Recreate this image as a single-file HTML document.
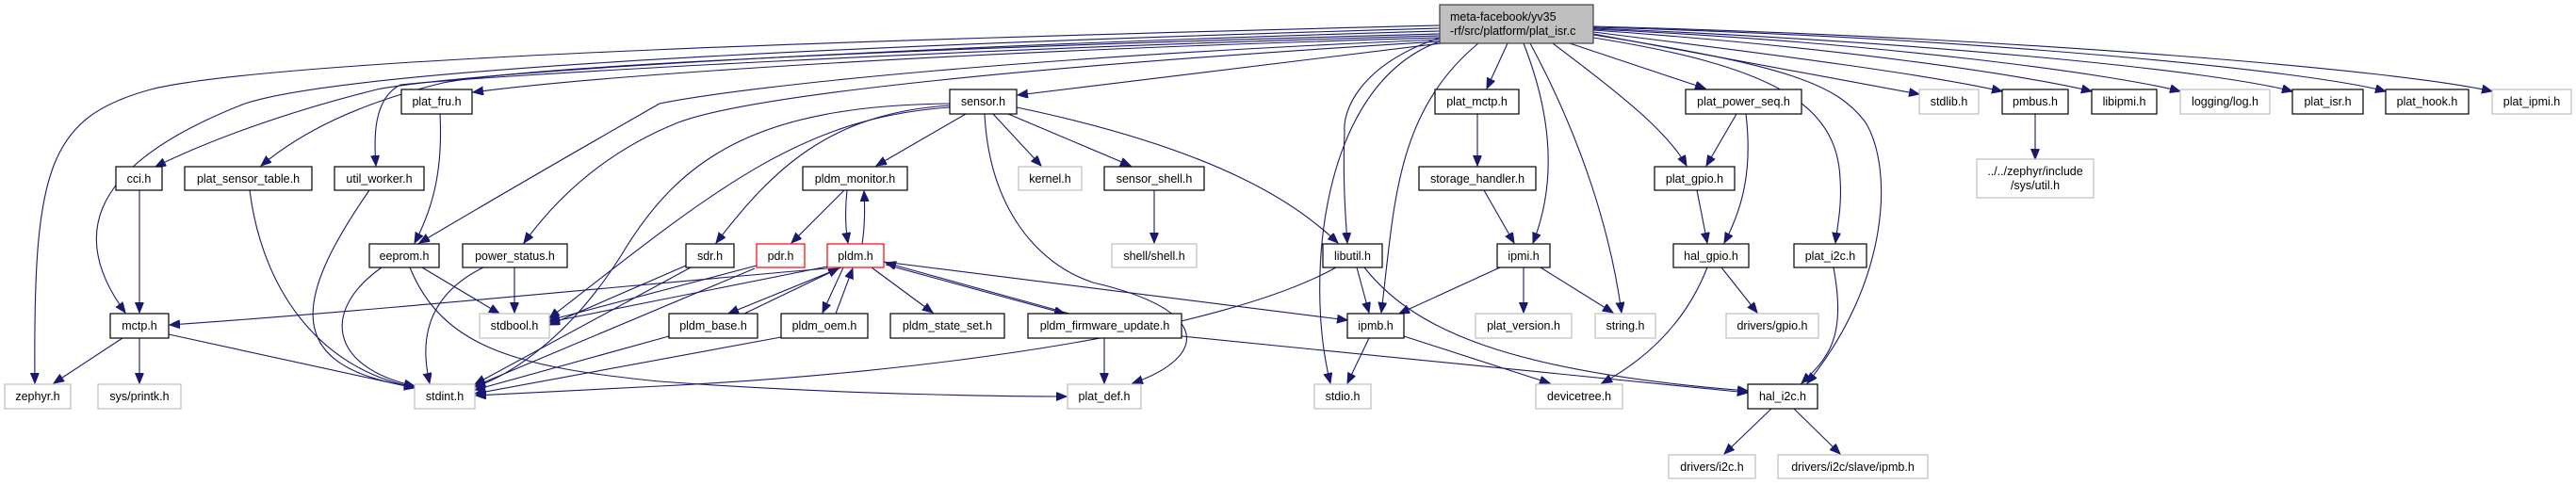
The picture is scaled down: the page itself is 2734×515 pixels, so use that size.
<!DOCTYPE html>
<html><head><meta charset="utf-8"><style>
html,body{margin:0;padding:0;background:#fff;}
svg{display:block;}
text{font-family:"Liberation Sans",sans-serif;font-size:12.5px;fill:#000;}
.e{fill:none;stroke:#191970;stroke-width:1.1;marker-end:url(#a);}
.n{fill:#fff;stroke:#000;stroke-width:1.2;}
.g{fill:#fff;stroke:#bfbfbf;stroke-width:1.2;}
.r{fill:#fff;stroke:#ff0000;stroke-width:1.2;}
</style></head><body>
<svg width="2734" height="515" viewBox="0 0 2734 515" xmlns="http://www.w3.org/2000/svg">
<defs><marker id="a" markerUnits="userSpaceOnUse" markerWidth="12" markerHeight="10" refX="11" refY="4.5" orient="auto"><path d="M0,0 L11,4.5 L0,9 Z" fill="#191970" stroke="#191970"/></marker></defs>
<path class="e" d="M1528,27 C1000,40 300,60 160,95 C50,125 35,180 37,407"/>
<path class="e" d="M1528,30 C1000,45 380,70 260,110 C80,180 80,260 133,332"/>
<path class="e" d="M1528,33 C1000,48 500,75 400,95 C300,120 220,150 165,177"/>
<path class="e" d="M1528,36 C1000,50 560,70 470,88 C380,110 320,140 277,176"/>
<path class="e" d="M1528,38 C1000,52 520,80 425,90 C395,105 397,150 399,176"/>
<path class="e" d="M1528,40 C1000,55 640,80 502,98"/>
<path class="e" d="M1528,42 C1100,60 800,90 700,110 Q560,190 445,258"/>
<path class="e" d="M1528,44 C1100,70 800,100 720,130 Q620,170 556,258"/>
<path class="e" d="M1530,46 L1080,101"/>
<path class="e" d="M1528,40 C1440,70 1425,120 1427,140 C1425,190 1428,230 1430,258"/>
<path class="e" d="M1569,46 C1480,120 1480,220 1466,332"/>
<path class="e" d="M1528,44 C1400,90 1385,300 1412,407"/>
<path class="e" d="M1600,46 L1578,94"/>
<path class="e" d="M1617,46 C1650,130 1650,200 1627,258"/>
<path class="e" d="M1624,46 C1680,150 1710,250 1721,332"/>
<path class="e" d="M1648,46 C1720,100 1770,140 1790,176"/>
<path class="e" d="M1666,46 L1810,94"/>
<path class="e" d="M1691,40 C1880,70 1950,110 1953,190 C1955,220 1950,240 1948,258"/>
<path class="e" d="M1691,37 C1900,70 1950,90 1980,130 C2010,180 2005,300 1918,407"/>
<path class="e" d="M1691,36 L2037,100"/>
<path class="e" d="M1691,34 C1900,60 2050,80 2125,97"/>
<path class="e" d="M1691,32 C1950,50 2150,80 2220,97"/>
<path class="e" d="M1691,31 C2000,45 2250,80 2314,97"/>
<path class="e" d="M1691,30 C2050,45 2350,75 2433,97"/>
<path class="e" d="M1691,29 C2100,40 2450,75 2532,97"/>
<path class="e" d="M1691,28 C2150,40 2550,75 2645,97"/>
<path class="e" d="M467,121 C470,180 460,220 440,258"/>
<path class="e" d="M148,202 L148,332"/>
<path class="e" d="M265,202 C280,320 350,395 440,411"/>
<path class="e" d="M392,202 C310,320 300,390 440,411"/>
<path class="e" d="M405,284 C340,330 350,390 440,410"/>
<path class="e" d="M448,284 L530,333"/>
<path class="e" d="M435,284 C470,370 550,390 700,405 C900,420 1100,421 1132,421"/>
<path class="e" d="M513,284 C440,320 450,380 456,407"/>
<path class="e" d="M546,284 L546,332"/>
<path class="e" d="M130,359 L57,407"/>
<path class="e" d="M148,359 L148,407"/>
<path class="e" d="M179,355 L440,412"/>
<path class="e" d="M878,285 C700,300 400,330 180,345"/>
<path class="e" d="M1025,121 L930,176"/>
<path class="e" d="M1054,121 L1105,176"/>
<path class="e" d="M1070,121 L1200,176"/>
<path class="e" d="M1008,112 C880,120 820,180 760,258"/>
<path class="e" d="M1008,114 C850,125 760,200 583,338"/>
<path class="e" d="M1008,110 C800,112 720,170 660,270 C610,350 550,395 504,411"/>
<path class="e" d="M1079,114 C1300,160 1380,220 1420,258"/>
<path class="e" d="M1045,121 C1050,220 1100,280 1160,300 C1290,330 1280,380 1202,407"/>
<path class="e" d="M1225,202 L1225,258"/>
<path class="e" d="M896,202 L840,258"/>
<path class="e" d="M899,202 C897,220 897,240 900,258"/>
<path class="e" d="M915,259 C918,240 918,220 917,203"/>
<path class="e" d="M893,284 L773,333"/>
<path class="e" d="M790,333 L890,285"/>
<path class="e" d="M895,284 L873,332"/>
<path class="e" d="M887,333 L905,285"/>
<path class="e" d="M925,284 L990,332"/>
<path class="e" d="M940,281 L1130,333"/>
<path class="e" d="M1135,333 L940,279"/>
<path class="e" d="M938,278 L1430,340"/>
<path class="e" d="M1172,359 L1172,407"/>
<path class="e" d="M1254,357 L1855,417"/>
<path class="e" d="M728,282 L583,345"/>
<path class="e" d="M733,284 L504,408"/>
<path class="e" d="M803,282 L583,340"/>
<path class="e" d="M801,285 L504,410"/>
<path class="e" d="M878,283 L583,342"/>
<path class="e" d="M710,357 L504,414"/>
<path class="e" d="M829,358 L504,418"/>
<path class="e" d="M1418,284 C1300,350 1000,395 700,410 L505,420"/>
<path class="e" d="M1440,284 L1453,332"/>
<path class="e" d="M1448,284 C1500,350 1600,395 1855,415"/>
<path class="e" d="M1575,202 L1607,258"/>
<path class="e" d="M1568,121 L1568,176"/>
<path class="e" d="M1592,284 L1485,333"/>
<path class="e" d="M1617,284 L1617,332"/>
<path class="e" d="M1635,284 L1712,332"/>
<path class="e" d="M1453,359 L1430,407"/>
<path class="e" d="M1490,357 L1645,407"/>
<path class="e" d="M1843,121 L1811,176"/>
<path class="e" d="M1853,121 C1860,180 1850,220 1830,258"/>
<path class="e" d="M1801,202 L1812,258"/>
<path class="e" d="M1812,284 C1790,340 1750,380 1700,407"/>
<path class="e" d="M1827,284 L1865,332"/>
<path class="e" d="M1946,284 C1960,360 1940,380 1912,407"/>
<path class="e" d="M1880,434 L1830,482"/>
<path class="e" d="M1904,434 L1953,482"/>
<path class="e" d="M2160,121 L2160,169"/>
<rect x="1528" y="5" width="163" height="41" fill="#bfbfbf" stroke="#404040" stroke-width="1.2"/>
<text x="1539" y="22">meta-facebook/yv35</text><text x="1539" y="37">-rf/src/platform/plat_isr.c</text>
<g text-anchor="middle">
<rect class="n" x="426" y="95" width="75" height="26"/><text x="463.5" y="112">plat_fru.h</text>
<rect class="n" x="1008" y="95" width="71" height="26"/><text x="1043.5" y="112">sensor.h</text>
<rect class="n" x="1523" y="95" width="89" height="26"/><text x="1567.5" y="112">plat_mctp.h</text>
<rect class="n" x="1789" y="95" width="123" height="26"/><text x="1850.5" y="112">plat_power_seq.h</text>
<rect class="g" x="2037" y="95" width="63" height="26"/><text x="2068.5" y="112">stdlib.h</text>
<rect class="n" x="2125" y="95" width="70" height="26"/><text x="2160" y="112">pmbus.h</text>
<rect class="n" x="2220" y="95" width="69" height="26"/><text x="2254.5" y="112">libipmi.h</text>
<rect class="g" x="2314" y="95" width="95" height="26"/><text x="2361.5" y="112">logging/log.h</text>
<rect class="n" x="2433" y="95" width="75" height="26"/><text x="2470.5" y="112">plat_isr.h</text>
<rect class="n" x="2532" y="95" width="88" height="26"/><text x="2576" y="112">plat_hook.h</text>
<rect class="g" x="2645" y="95" width="84" height="26"/><text x="2687" y="112">plat_ipmi.h</text>
<rect class="n" x="123" y="177" width="49" height="25"/><text x="147.5" y="194">cci.h</text>
<rect class="n" x="196" y="177" width="135" height="25"/><text x="263.5" y="194">plat_sensor_table.h</text>
<rect class="n" x="355" y="177" width="95" height="25"/><text x="402.5" y="194">util_worker.h</text>
<rect class="n" x="852" y="177" width="111" height="25"/><text x="907.5" y="194">pldm_monitor.h</text>
<rect class="g" x="1081" y="177" width="67" height="25"/><text x="1114.5" y="194">kernel.h</text>
<rect class="n" x="1172" y="177" width="106" height="25"/><text x="1225" y="194">sensor_shell.h</text>
<rect class="n" x="1506" y="177" width="124" height="25"/><text x="1568" y="194">storage_handler.h</text>
<rect class="n" x="1756" y="177" width="85" height="25"/><text x="1798.5" y="194">plat_gpio.h</text>
<rect class="g" x="2098" y="169" width="124" height="41"/><text x="2160" y="186">../../zephyr/include</text><text x="2160" y="201">/sys/util.h</text>
<rect class="n" x="392" y="259" width="74" height="25"/><text x="429" y="276">eeprom.h</text>
<rect class="n" x="491" y="259" width="111" height="25"/><text x="546.5" y="276">power_status.h</text>
<rect class="n" x="728" y="259" width="51" height="25"/><text x="753.5" y="276">sdr.h</text>
<rect class="r" x="803" y="259" width="51" height="25"/><text x="828.5" y="276">pdr.h</text>
<rect class="r" x="878" y="259" width="60" height="25"/><text x="908" y="276">pldm.h</text>
<rect class="g" x="1180" y="259" width="90" height="25"/><text x="1225" y="276">shell/shell.h</text>
<rect class="n" x="1404" y="259" width="63" height="25"/><text x="1435.5" y="276">libutil.h</text>
<rect class="n" x="1589" y="259" width="56" height="25"/><text x="1617" y="276">ipmi.h</text>
<rect class="n" x="1776" y="259" width="80" height="25"/><text x="1816" y="276">hal_gpio.h</text>
<rect class="n" x="1904" y="259" width="77" height="25"/><text x="1942.5" y="276">plat_i2c.h</text>
<rect class="n" x="117" y="333" width="62" height="26"/><text x="148" y="350">mctp.h</text>
<rect class="g" x="509" y="333" width="74" height="26"/><text x="546" y="350">stdbool.h</text>
<rect class="n" x="710" y="333" width="94" height="26"/><text x="757" y="350">pldm_base.h</text>
<rect class="n" x="829" y="333" width="92" height="26"/><text x="875" y="350">pldm_oem.h</text>
<rect class="n" x="945" y="333" width="121" height="26"/><text x="1005.5" y="350">pldm_state_set.h</text>
<rect class="n" x="1091" y="333" width="163" height="26"/><text x="1172.5" y="350">pldm_firmware_update.h</text>
<rect class="n" x="1430" y="333" width="60" height="26"/><text x="1460" y="350">ipmb.h</text>
<rect class="g" x="1566" y="333" width="102" height="26"/><text x="1617" y="350">plat_version.h</text>
<rect class="g" x="1693" y="333" width="64" height="26"/><text x="1725" y="350">string.h</text>
<rect class="g" x="1832" y="333" width="98" height="26"/><text x="1881" y="350">drivers/gpio.h</text>
<rect class="g" x="5" y="408" width="70" height="26"/><text x="40" y="425">zephyr.h</text>
<rect class="g" x="104" y="408" width="88" height="26"/><text x="148" y="425">sys/printk.h</text>
<rect class="g" x="440" y="408" width="64" height="26"/><text x="472" y="425">stdint.h</text>
<rect class="g" x="1133" y="408" width="78" height="26"/><text x="1172" y="425">plat_def.h</text>
<rect class="g" x="1395" y="408" width="60" height="26"/><text x="1425" y="425">stdio.h</text>
<rect class="g" x="1630" y="408" width="92" height="26"/><text x="1676" y="425">devicetree.h</text>
<rect class="n" x="1855" y="408" width="74" height="26"/><text x="1892" y="425">hal_i2c.h</text>
<rect class="g" x="1771" y="483" width="92" height="25"/><text x="1817" y="500">drivers/i2c.h</text>
<rect class="g" x="1887" y="483" width="159" height="25"/><text x="1966.5" y="500">drivers/i2c/slave/ipmb.h</text>
</g>
</svg>
</body></html>
